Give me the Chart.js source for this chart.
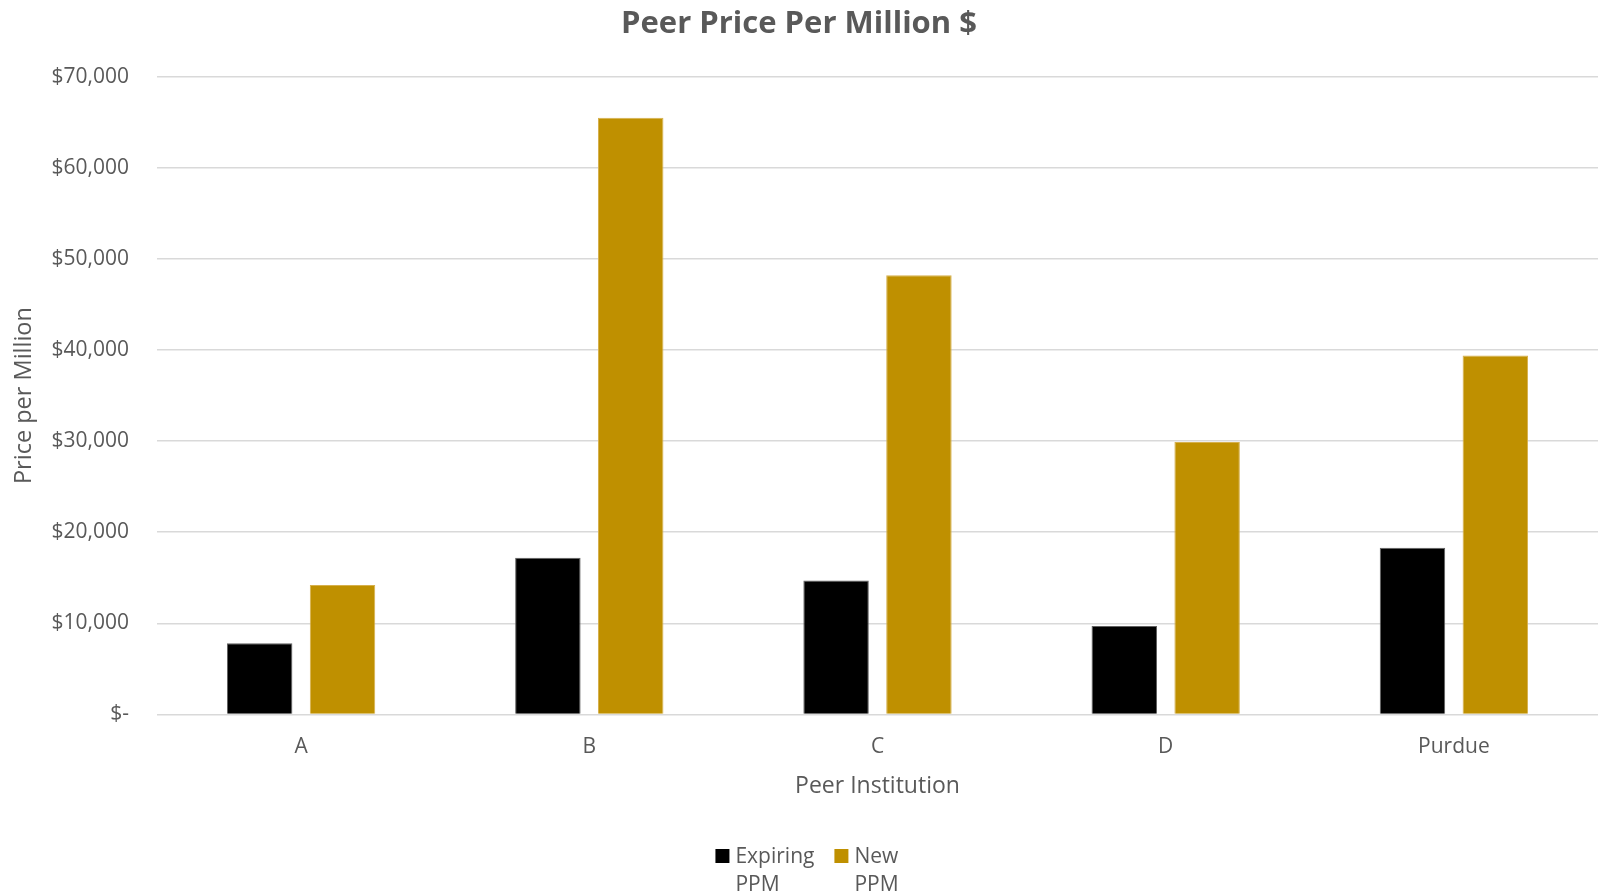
<!DOCTYPE html>
<html lang="en">
<head>
    <meta charset="UTF-8">
    <title>Peer Price Per Million $</title>
    <style>
        html, body { margin: 0; padding: 0; background: #fff; }
        #wrap { width: 1598px; height: 896px; }
    </style>
</head>
<body>
    <div id="wrap"><canvas id="grafico" width="1598" height="896"></canvas></div>

    <script src="https://cdn.jsdelivr.net/npm/chart.js"></script>
    <script>
        const categorie = ['A', 'B', 'C', 'D', 'Purdue'];
        const expiringPPM = [7800, 17200, 14700, 9700, 18300];
        const newPPM = [14200, 65500, 48200, 29900, 39400];
        const nomiSerie = [['Expiring', 'PPM'], ['New', 'PPM']];
        const coloriSerie = ['#000000', '#BF9000'];
        const tickY = [0, 10000, 20000, 30000, 40000, 50000, 60000, 70000];

        const FONT = "'Open Sans', 'Liberation Sans', sans-serif";
        const GRIGIO = '#595959';

        // legenda disegnata a mano (etichette su due righe come nell'originale)
        const legendaPlugin = {
            id: 'legenda',
            afterDraw(chart) {
                const ctx = chart.ctx;
                ctx.save();
                ctx.font = '21px ' + FONT;
                ctx.textBaseline = 'middle';
                ctx.textAlign = 'left';
                const box = 14, gapBox = 6, gapItem = 20;
                const items = chart.data.datasets.map((ds, i) => {
                    const w = Math.max(...nomiSerie[i].map(t => ctx.measureText(t).width));
                    return { testo: nomiSerie[i], colore: ds.backgroundColor, w: box + gapBox + w };
                });
                const totale = items.reduce((s, it) => s + it.w, 0) + gapItem * (items.length - 1);
                let x = chart.width / 2 + 8 - totale / 2;
                const y1 = 857, y2 = 885;
                items.forEach(it => {
                    ctx.fillStyle = it.colore;
                    ctx.fillRect(x, y1 - box / 2 - 1, box, box);
                    ctx.fillStyle = GRIGIO;
                    ctx.fillText(it.testo[0], x + box + gapBox, y1);
                    ctx.fillText(it.testo[1], x + box + gapBox, y2);
                    x += it.w + gapItem;
                });
                ctx.restore();
            }
        };

        const ctx = document.getElementById('grafico').getContext('2d');
        const grafico = new Chart(ctx, {
            type: 'bar',
            data: {
                labels: categorie,
                datasets: [{
                    label: nomiSerie[0].join(' '),
                    data: expiringPPM,
                    backgroundColor: coloriSerie[0],
                    borderColor: '#606060',
                    borderWidth: 1,
                    categoryPercentage: 0.575,
                    barPercentage: 0.79
                }, {
                    label: nomiSerie[1].join(' '),
                    data: newPPM,
                    backgroundColor: coloriSerie[1],
                    borderColor: '#d6b04c',
                    borderWidth: 1,
                    categoryPercentage: 0.575,
                    barPercentage: 0.79
                }]
            },
            options: {
                responsive: false,
                animation: false,
                layout: { padding: { top: 0, right: 0, bottom: 60, left: 0 } },
                plugins: {
                    legend: { display: false },
                    tooltip: { enabled: false },
                    title: {
                        display: true,
                        text: 'Peer Price Per Million $',
                        color: GRIGIO,
                        font: { family: FONT, size: 31, weight: 'bold', lineHeight: 1.2 },
                        padding: { top: 6, bottom: 33.5 }
                    }
                },
                scales: {
                    x: {
                        grid: { display: false },
                        border: { display: false },
                        ticks: {
                            color: GRIGIO,
                            font: { family: FONT, size: 21 },
                            padding: 12
                        },
                        title: {
                            display: true,
                            text: 'Peer Institution',
                            color: GRIGIO,
                            font: { family: FONT, size: 23, lineHeight: 1.2 },
                            padding: { top: 0, bottom: 35.5 }
                        },
                        afterFit(scale) { scale.height = 121.6; }
                    },
                    y: {
                        min: 0,
                        max: 70000,
                        afterBuildTicks(scale) {
                            scale.ticks = tickY.map(v => ({ value: v }));
                        },
                        grid: {
                            color: '#d9d9d9',
                            lineWidth: 1.5,
                            drawTicks: false
                        },
                        border: { display: false },
                        ticks: {
                            color: GRIGIO,
                            font: { family: FONT, size: 21 },
                            padding: 28,
                            callback: v => v === 0 ? '$-' : '$' + v.toLocaleString('en-US')
                        },
                        title: {
                            display: true,
                            text: 'Price per Million',
                            color: GRIGIO,
                            font: { family: FONT, size: 23.5, lineHeight: 1.2 },
                            padding: { top: 10, bottom: 0 }
                        },
                        afterFit(scale) { scale.width = 157; }
                    }
                }
            },
            plugins: [legendaPlugin]
        });
    </script>
</body>
</html>
